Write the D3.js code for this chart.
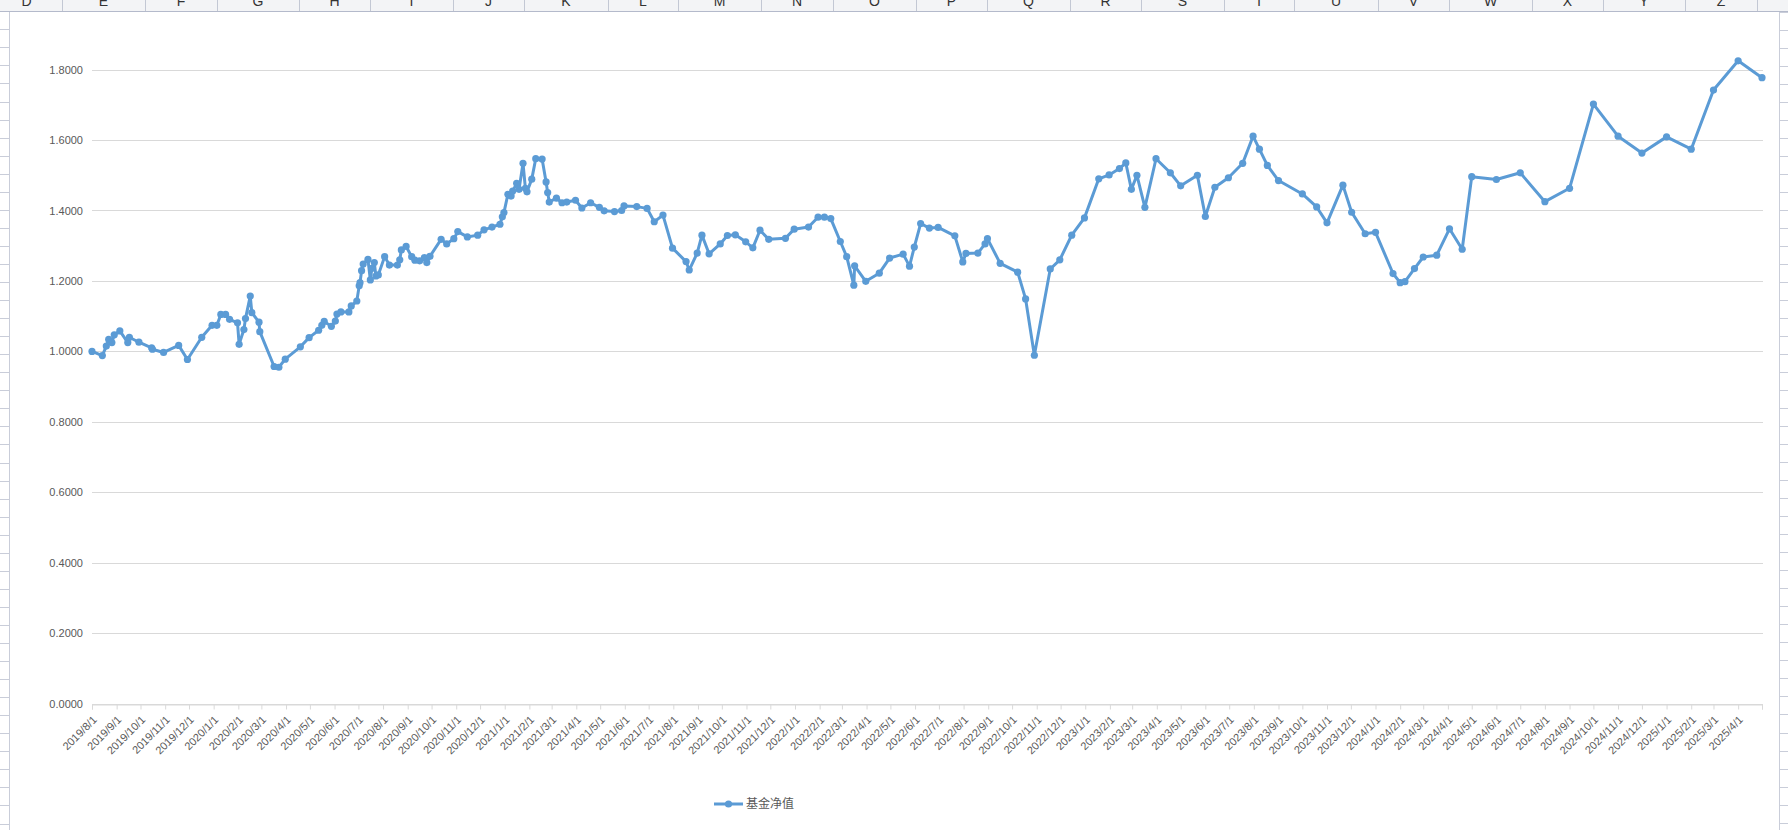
<!DOCTYPE html>
<html><head><meta charset="utf-8">
<script src="https://cdn.jsdelivr.net/npm/d3@7"></script>
<style>html,body{margin:0;padding:0;background:#fff;overflow:hidden}svg{display:block}</style>
</head><body>
<svg id="c" width="1788" height="830"></svg>
<script>
// ---------- data ----------
const seriesName = "基金净值";
const dates = [
"2019-08-01","2019-08-14","2019-08-19","2019-08-22","2019-08-26","2019-08-29","2019-09-05","2019-09-15","2019-09-17","2019-09-29",
"2019-10-15","2019-10-16","2019-10-30","2019-11-18","2019-11-29","2019-12-17","2019-12-30","2020-01-05","2020-01-10","2020-01-16",
"2020-01-21","2020-01-31","2020-02-02","2020-02-08","2020-02-10","2020-02-16","2020-02-18","2020-02-27","2020-02-28","2020-03-17",
"2020-03-23","2020-03-31","2020-04-19","2020-04-30","2020-05-12","2020-05-16","2020-05-19","2020-05-28","2020-06-02","2020-06-04",
"2020-06-09","2020-06-19","2020-06-22","2020-06-29","2020-07-02","2020-07-03","2020-07-05","2020-07-07","2020-07-13","2020-07-16",
"2020-07-18","2020-07-21","2020-07-23","2020-07-26","2020-08-03","2020-08-09","2020-08-19","2020-08-22","2020-08-24","2020-08-30",
"2020-09-06","2020-09-10","2020-09-16","2020-09-22","2020-09-25","2020-09-29","2020-10-13","2020-10-20","2020-10-29","2020-11-03",
"2020-11-15","2020-11-28","2020-12-06","2020-12-16","2020-12-26","2020-12-29","2020-12-31","2021-01-05","2021-01-09","2021-01-11",
"2021-01-16","2021-01-19","2021-01-24","2021-01-27","2021-01-29","2021-02-04","2021-02-09","2021-02-17","2021-02-22","2021-02-24",
"2021-02-26","2021-03-07","2021-03-14","2021-03-20","2021-03-31","2021-04-08","2021-04-19","2021-04-30","2021-05-06","2021-05-19",
"2021-05-28","2021-05-31","2021-06-16","2021-06-29","2021-07-08","2021-07-19","2021-07-31","2021-08-17","2021-08-21","2021-08-31",
"2021-09-06","2021-09-15","2021-09-29","2021-10-08","2021-10-18","2021-10-31","2021-11-09","2021-11-18","2021-11-29","2021-12-20",
"2021-12-31","2022-01-18","2022-01-30","2022-02-07","2022-02-15","2022-02-27","2022-03-07","2022-03-16","2022-03-17","2022-03-31",
"2022-04-17","2022-04-30","2022-05-17","2022-05-25","2022-05-31","2022-06-08","2022-06-19","2022-06-30","2022-07-21","2022-07-31",
"2022-08-04","2022-08-19","2022-08-28","2022-08-31","2022-09-16","2022-10-08","2022-10-18","2022-10-29","2022-11-18","2022-11-30",
"2022-12-15","2022-12-31","2023-01-18","2023-01-31","2023-02-13","2023-02-21","2023-02-28","2023-03-07","2023-03-17","2023-03-31",
"2023-04-18","2023-05-01","2023-05-22","2023-06-01","2023-06-13","2023-06-30","2023-07-18","2023-07-31","2023-08-08","2023-08-18",
"2023-09-01","2023-10-01","2023-10-19","2023-11-01","2023-11-21","2023-12-02","2023-12-19","2024-01-01","2024-01-23","2024-02-01",
"2024-02-07","2024-02-19","2024-03-01","2024-03-18","2024-04-03","2024-04-19","2024-05-01","2024-06-01","2024-07-01","2024-08-01",
"2024-09-01","2024-10-01","2024-11-01","2024-12-01","2025-01-01","2025-02-01","2025-03-01","2025-04-01","2025-05-01"
];
const navValues = [
1.000,0.988,1.015,1.034,1.025,1.047,1.058,1.025,1.040,1.026,
1.010,1.006,0.997,1.017,0.977,1.040,1.074,1.074,1.105,1.105,
1.091,1.081,1.020,1.062,1.093,1.157,1.110,1.083,1.056,0.957,
0.955,0.978,1.013,1.039,1.060,1.074,1.085,1.071,1.086,1.106,
1.112,1.112,1.129,1.143,1.186,1.195,1.229,1.248,1.261,1.203,
1.236,1.252,1.214,1.217,1.269,1.245,1.245,1.260,1.288,1.298,
1.269,1.259,1.257,1.266,1.252,1.270,1.318,1.305,1.320,1.340,
1.325,1.330,1.345,1.353,1.361,1.382,1.394,1.446,1.441,1.455,
1.477,1.460,1.534,1.463,1.453,1.489,1.547,1.546,1.481,1.451,
1.424,1.435,1.422,1.424,1.429,1.407,1.422,1.409,1.399,1.397,
1.400,1.413,1.411,1.406,1.368,1.387,1.293,1.255,1.231,1.279,
1.330,1.277,1.305,1.329,1.331,1.311,1.294,1.344,1.318,1.321,
1.347,1.353,1.381,1.381,1.377,1.312,1.269,1.188,1.243,1.199,
1.222,1.265,1.276,1.242,1.296,1.363,1.350,1.352,1.328,1.254,
1.278,1.279,1.305,1.320,1.250,1.225,1.149,0.989,1.234,1.260,
1.330,1.379,1.490,1.501,1.519,1.535,1.460,1.500,1.409,1.547,
1.507,1.470,1.500,1.383,1.466,1.493,1.534,1.611,1.574,1.528,
1.485,1.447,1.410,1.365,1.472,1.395,1.334,1.338,1.221,1.195,
1.198,1.235,1.268,1.273,1.348,1.290,1.496,1.488,1.507,1.425,
1.463,1.702,1.611,1.563,1.609,1.574,1.742,1.825,1.777
];
const yTicks = [0,0.2,0.4,0.6,0.8,1.0,1.2,1.4,1.6,1.8];
const xStart = "2019-08-01", xEnd = "2025-05-01", lastLabel = "2025-04-01";
const columnLetters = ["D","E","F","G","H","I","J","K","L","M","N","O","P","Q","R","S","T","U","V","W","X","Y","Z"];

// ---------- layout ----------
const W = 1788, H = 830;
const colEdges = [-9,62,145,217,299,370,453,524,608,678,761,833,916,987,1070,1141,1224,1294,1378,1449,1532,1603,1685,1757];
const plot = {left: 92, right: 1762, top: 69.6, bottom: 703.6};
const blue = "#5b9bd5", grid = "#d9d9d9", txt = "#595959";

const parse = d3.utcParse("%Y-%m-%d");
const data = dates.map((d,i) => ({date: parse(d), value: navValues[i]}));

const svg = d3.select("#c");
svg.append("rect").attr("width", W).attr("height", H).attr("fill", "#fff");

// spreadsheet frame: column header
const hdr = svg.append("g");
hdr.append("rect").attr("x",0).attr("y",0).attr("width",W).attr("height",11).attr("fill","#f3f4f6");
const clip = svg.append("clipPath").attr("id","hc");
clip.append("rect").attr("x",0).attr("y",0).attr("width",W).attr("height",11);
const hl = hdr.append("g").attr("clip-path","url(#hc)");
columnLetters.forEach((L,i) => {
  const x0 = colEdges[i], x1 = colEdges[i+1];
  hl.append("text").attr("x",(x0+x1)/2).attr("y",6).attr("text-anchor","middle")
    .attr("font-family","Liberation Sans, Arial, sans-serif").attr("font-size",14).attr("fill","#333").text(L);
  hl.append("line").attr("x1",x1+0.5).attr("x2",x1+0.5).attr("y1",0).attr("y2",11).attr("stroke","#c3c8d4");
});
hdr.append("line").attr("x1",0).attr("x2",W).attr("y1",11.5).attr("y2",11.5).attr("stroke","#b4bacb");

// row strips
const rows = d3.range(29.3, H, 18.05);
const strips = svg.append("g").attr("stroke","#c9cdd9");
strips.append("line").attr("x1",9.5).attr("x2",9.5).attr("y1",12).attr("y2",H);
strips.append("line").attr("x1",1779.5).attr("x2",1779.5).attr("y1",12).attr("y2",H);
rows.forEach(y => {
  strips.append("line").attr("x1",0).attr("x2",9).attr("y1",Math.round(y)+0.5).attr("y2",Math.round(y)+0.5);
});
d3.range(11.7, H, 18.02).forEach(y => {
  strips.append("line").attr("x1",1780).attr("x2",W).attr("y1",Math.round(y)+0.5).attr("y2",Math.round(y)+0.5);
});

// scales
const x = d3.scaleUtc().domain([parse(xStart), parse(xEnd)]).range([plot.left, plot.right]);
const y = d3.scaleLinear().domain([0, 1.8]).range([plot.bottom, plot.top]);

// gridlines
svg.append("g").selectAll("line").data(yTicks).join("line")
  .attr("x1", plot.left).attr("x2", plot.right+1)
  .attr("y1", d => Math.round(y(d))+0.5).attr("y2", d => Math.round(y(d))+0.5)
  .attr("stroke", grid).attr("stroke-width", 1);

// y axis labels
const yAxis = d3.axisLeft(y).tickValues(yTicks).tickSize(0).tickPadding(9).tickFormat(d3.format(".4f"));
const gy = svg.append("g").attr("transform", `translate(${plot.left},0)`).call(yAxis);
gy.select(".domain").remove();
gy.selectAll("text").attr("font-family","Liberation Sans, Arial, sans-serif").attr("font-size",11).attr("fill",txt);

// x axis
const months = d3.utcMonth.range(parse(xStart), d3.utcDay.offset(parse(xEnd),1));
const fmt = d3.utcFormat("%Y/%-m/%-d");
const xAxis = d3.axisBottom(x).tickValues(months).tickSize(5)
  .tickFormat(d => d <= parse(lastLabel) ? fmt(d) : "");
const gx = svg.append("g").attr("transform", `translate(0,${Math.round(plot.bottom)+0.5})`).call(xAxis);
gx.select(".domain").attr("stroke", grid);
gx.selectAll(".tick line").attr("stroke", grid);
gx.selectAll(".tick text")
  .attr("font-family","Liberation Sans, Arial, sans-serif").attr("font-size",11).attr("fill",txt)
  .attr("text-anchor","end").attr("dy",null).attr("y",null)
  .attr("transform","translate(5,16) rotate(-45)");

// series line
const line = d3.line().x(d => x(d.date)).y(d => y(d.value));
svg.append("path").datum(data).attr("d", line).attr("fill","none")
  .attr("stroke", blue).attr("stroke-width", 3).attr("stroke-linejoin","round").attr("stroke-linecap","round");
svg.append("g").selectAll("circle").data(data).join("circle")
  .attr("cx", d => x(d.date)).attr("cy", d => y(d.value)).attr("r", 3.6).attr("fill", blue);

// legend
const lg = svg.append("g").attr("transform","translate(714,804)");
lg.append("line").attr("x1",0).attr("x2",29).attr("stroke",blue).attr("stroke-width",3);
lg.append("circle").attr("cx",14.5).attr("r",3.6).attr("fill",blue);
lg.append("text").attr("x",32).attr("y",0).attr("dy","0.35em")
  .attr("font-family","Noto Sans CJK SC, sans-serif").attr("font-size",12).attr("fill",txt).text(seriesName);
</script>
</body></html>
